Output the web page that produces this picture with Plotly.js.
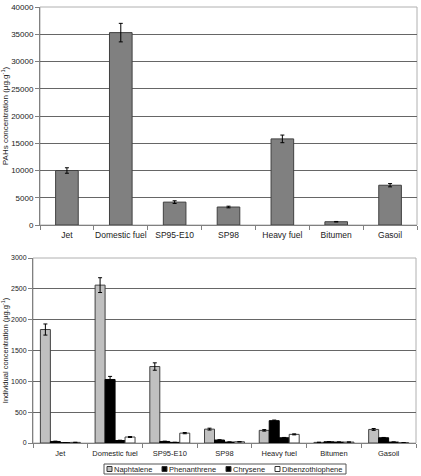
<!DOCTYPE html>
<html><head><meta charset="utf-8">
<script src="https://cdn.plot.ly/plotly-3.0.1.min.js"></script>
<style>html,body{margin:0;padding:0;background:#fff}#c{width:421px;height:476px}</style>
</head><body><div id="c"></div>
<script>
const fuels = ["Jet","Domestic fuel","SP95-E10","SP98","Heavy fuel","Bitumen","Gasoil"];
const totalPAH = [10000,35300,4200,3300,15800,600,7300];
const totalPAHErr = [500,1700,250,150,700,50,300];
const naphtalene = [1840,2560,1240,225,205,10,220];
const naphtaleneErr = [90,120,60,15,12,3,15];
const phenanthrene = [25,1030,25,48,362,20,85];
const phenanthreneErr = [5,50,5,5,10,3,5];
const chrysene = [5,40,10,15,85,15,15];
const chryseneErr = [2,5,2,2,5,2,2];
const dibenzothiophene = [10,97,160,20,140,15,5];
const dibenzothiopheneErr = [2,8,10,3,8,2,2];
const seriesNames = ["Naphtalene","Phenanthrene","Chrysene","Dibenzothiophene"];
const seriesColors = ["#c0c0c0","#000000","#000000","#ffffff"];
const ticksTop = [0,5000,10000,15000,20000,25000,30000,35000,40000];
const ticksBot = [0,500,1000,1500,2000,2500,3000];

const F = "Liberation Sans, Arial, sans-serif";
const W=421,H=476,ML=33,MR=4,MT=7,MB=33;
const px2x = p => (p-ML)/(W-ML-MR);
const py2y = p => (H-MB-p)/(H-MT-MB);
const eb = (a)=>({type:'data',array:a,visible:true,color:'#000',thickness:1,width:2});
const seriesData = [naphtalene,phenanthrene,chrysene,dibenzothiophene];
const seriesErr = [naphtaleneErr,phenanthreneErr,chryseneErr,dibenzothiopheneErr];
const traces = [
 {type:'bar',x:fuels,y:totalPAH,error_y:eb(totalPAHErr),xaxis:'x',yaxis:'y',
  marker:{color:'#808080',line:{color:'#404040',width:1}},width:0.42,name:'PAHs'}
];
seriesNames.forEach((n,i)=>traces.push({type:'bar',x:fuels,y:seriesData[i],error_y:eb(seriesErr[i]),
  xaxis:'x2',yaxis:'y2',name:n,marker:{color:seriesColors[i],line:{color:i===0||i===3?'#404040':'#000',width:1}}}));

// manual compact legend (key squares + real text)
const legBox=[104,346,464,474], legY=469;
const sqX=[107,162,226,275], txX=[114,169,233,282];
const shapes=[
  {type:'rect',xref:'x domain',yref:'y domain',x0:0,x1:1,y0:0,y1:1,line:{color:'#b0b0b0',width:1},layer:'below'},
  {type:'rect',xref:'x2 domain',yref:'y2 domain',x0:0,x1:1,y0:0,y1:1,line:{color:'#b0b0b0',width:1},layer:'below'},
  {type:'rect',xref:'paper',yref:'paper',x0:px2x(legBox[0]),x1:px2x(legBox[1]),y0:py2y(legBox[3]),y1:py2y(legBox[2]),
   line:{color:'#555',width:1},fillcolor:'rgba(0,0,0,0)'}
];
const annotations=[];
seriesNames.forEach((n,i)=>{
  shapes.push({type:'rect',xref:'paper',yref:'paper',x0:px2x(sqX[i]),x1:px2x(sqX[i]+5),y0:py2y(legY+2.5),y1:py2y(legY-2.5),
    line:{color:'#333',width:1},fillcolor:seriesColors[i]});
  annotations.push({xref:'paper',yref:'paper',x:px2x(txX[i]),y:py2y(legY),text:n,showarrow:false,
    xanchor:'left',yanchor:'middle',font:{size:7.5,family:F,color:'#222'},xshift:-2});
});
const gridC = '#666666';
const layout = {
 width:W,height:H,margin:{l:ML,r:MR,t:MT,b:MB},
 paper_bgcolor:'#fff',plot_bgcolor:'#fff',
 font:{family:F,color:'#222',size:8},
 barmode:'group',bargap:0.27,bargroupgap:0,showlegend:false,
 xaxis:{domain:[px2x(40),1],anchor:'y',type:'category',showline:true,linecolor:'#808080',automargin:false,tickangle:0,
   ticks:'outside',tickson:'boundaries',ticklen:4,tickcolor:'#808080',showgrid:false,ticklabelstandoff:2,
   tickfont:{size:8.5,family:F,color:'#222'}},
 yaxis:{domain:[py2y(225),1],anchor:'x',range:[0,40000],tickvals:ticksTop,ticktext:ticksTop.map(String),automargin:false,
   showline:true,linecolor:'#808080',ticks:'outside',ticklen:4,tickcolor:'#808080',
   gridcolor:gridC,gridwidth:1,zeroline:false,tickfont:{size:8,family:F,color:'#222'},
   title:{text:'PAHs concentration (µg.g<sup>-1</sup>)',font:{size:8,family:F,color:'#222'},standoff:3}},
 xaxis2:{domain:[0,px2x(416)],anchor:'y2',type:'category',showline:true,linecolor:'#808080',automargin:false,tickangle:0,
   ticks:'outside',tickson:'boundaries',ticklen:4,tickcolor:'#808080',showgrid:false,ticklabelstandoff:3,
   tickfont:{size:7.5,family:F,color:'#222'}},
 yaxis2:{domain:[0,py2y(258)],anchor:'x2',range:[0,3000],tickvals:ticksBot,ticktext:ticksBot.map(String),automargin:false,
   showline:true,linecolor:'#808080',ticks:'outside',ticklen:4,tickcolor:'#808080',
   gridcolor:gridC,gridwidth:1,zeroline:false,tickfont:{size:7,family:F,color:'#222'},
   title:{text:'Individual concentration (µg.g<sup>-1</sup>)',font:{size:7.5,family:F,color:'#222'},standoff:12}},
 shapes:shapes,annotations:annotations
};
Plotly.newPlot('c',traces,layout,{displayModeBar:false,staticPlot:true});
</script></body></html>
